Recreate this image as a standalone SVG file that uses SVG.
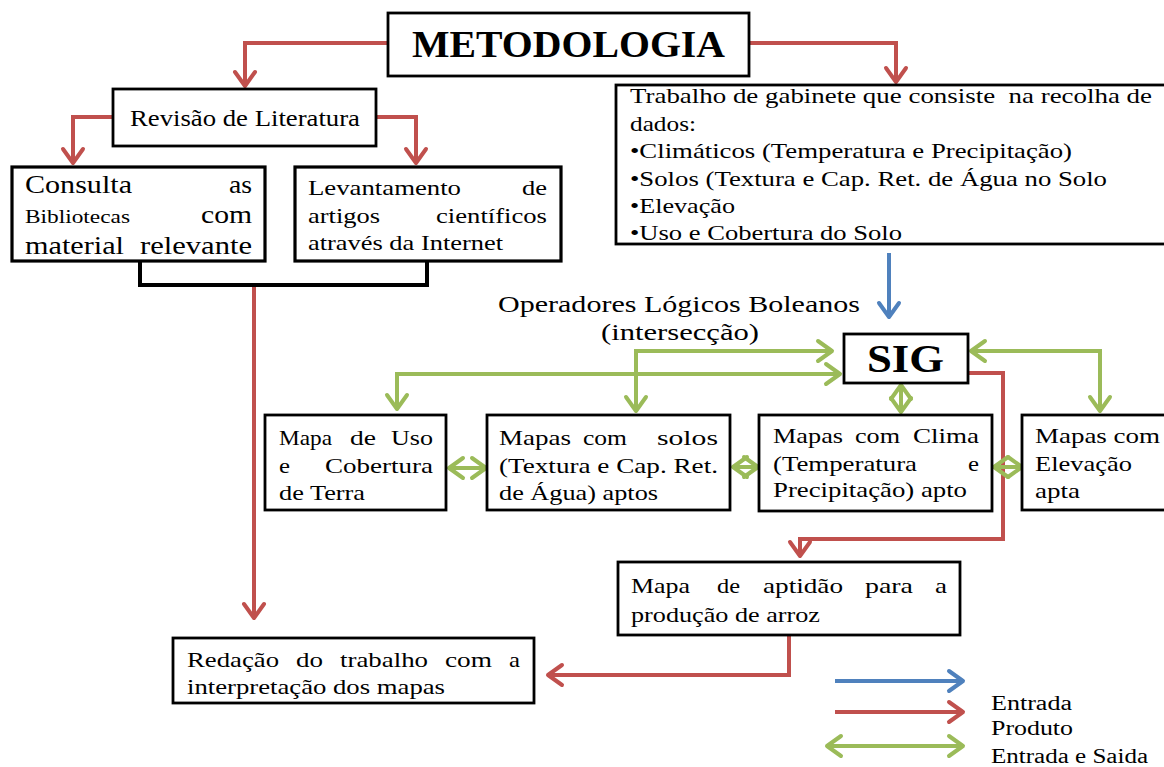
<svg xmlns="http://www.w3.org/2000/svg" width="1164" height="767" viewBox="0 0 1164 767" font-family="'Liberation Serif', Tinos, 'Times New Roman', Times, serif">
<style>
.box{fill:#fff;stroke:#000;stroke-width:2.8}
text{font-family:'Liberation Serif', Tinos, 'Times New Roman', Times, serif;fill:#000;font-size:22px}
.bold{font-weight:bold}
.r{stroke:#C0504D;stroke-width:4;fill:none}
.g{stroke:#9BBB59;stroke-width:4;fill:none}
.b{stroke:#4F81BD;stroke-width:4;fill:none}
.k{stroke:#000;stroke-width:4;fill:none}
</style>
<defs>
<marker id="ar" markerUnits="userSpaceOnUse" viewBox="-17 -13 21 26" markerWidth="21" markerHeight="26" refX="0" refY="0" orient="auto"><path d="M-14,-10 L0,0 L-14,10" fill="none" stroke="#C0504D" stroke-width="4" stroke-linecap="round" stroke-linejoin="round"/></marker>
<marker id="ag" markerUnits="userSpaceOnUse" viewBox="-17 -13 21 26" markerWidth="21" markerHeight="26" refX="0" refY="0" orient="auto-start-reverse"><path d="M-14,-10 L0,0 L-14,10" fill="none" stroke="#9BBB59" stroke-width="4" stroke-linecap="round" stroke-linejoin="round"/></marker>
<marker id="ab" markerUnits="userSpaceOnUse" viewBox="-17 -13 21 26" markerWidth="21" markerHeight="26" refX="0" refY="0" orient="auto"><path d="M-14,-10 L0,0 L-14,10" fill="none" stroke="#4F81BD" stroke-width="4" stroke-linecap="round" stroke-linejoin="round"/></marker>
</defs>
<rect width="1164" height="767" fill="#fff"/>

<g id="connectors">
<path class="r" d="M388,43 H245 V86" marker-end="url(#ar)"/>
<path class="r" d="M749,43 H896 V82" marker-end="url(#ar)"/>
<path class="r" d="M113,117 H73 V163" marker-end="url(#ar)"/>
<path class="r" d="M376,117 H416 V163" marker-end="url(#ar)"/>
<path class="k" d="M140,261 V285 H427 V261"/>
<path class="r" d="M254,287 V618" marker-end="url(#ar)"/>
<path class="r" d="M963,373 H1003 V539 H800 V556" marker-end="url(#ar)"/>
<path class="r" d="M789,635 V675 H548" marker-end="url(#ar)"/>
<path class="b" d="M889,253 V317" marker-end="url(#ab)"/>
<path class="g" d="M636,411 V351 H832" marker-start="url(#ag)" marker-end="url(#ag)"/>
<path class="g" d="M397,409 V374 H840" marker-start="url(#ag)" marker-end="url(#ag)"/>
<path class="g" d="M1100,411 V351 H971" marker-start="url(#ag)" marker-end="url(#ag)"/>
<path class="g" d="M901,385 V412" marker-start="url(#ag)" marker-end="url(#ag)"/>
<path class="g" d="M449,468 H486" marker-start="url(#ag)" marker-end="url(#ag)"/>
<path class="g" d="M733,467 H758" marker-start="url(#ag)" marker-end="url(#ag)"/>
<path class="g" d="M994,467 H1022" marker-start="url(#ag)" marker-end="url(#ag)"/>
</g>

<g id="metodologia">
<rect class="box" x="388" y="13" width="361" height="63"/>
<text class="bold" x="412" y="57" style="font-size:38px" textLength="313" lengthAdjust="spacingAndGlyphs">METODOLOGIA</text>
</g>

<g id="revisao">
<rect class="box" x="113" y="89" width="263" height="57"/>
<text x="130" y="126" style="font-size:23px" textLength="230" lengthAdjust="spacingAndGlyphs">Revisão de Literatura</text>
</g>

<g id="consulta">
<rect class="box" x="12" y="167" width="253" height="94" style="stroke-width:3.2"/>
<text x="25" y="193" style="font-size:26px" textLength="107" lengthAdjust="spacingAndGlyphs">Consulta</text>
<text x="229" y="193" style="font-size:26px" textLength="23" lengthAdjust="spacingAndGlyphs">as</text>
<text x="25" y="223" style="font-size:18px" textLength="105" lengthAdjust="spacingAndGlyphs">Bibliotecas</text>
<text x="201" y="223" style="font-size:26px" textLength="51" lengthAdjust="spacingAndGlyphs">com</text>
<text x="25" y="254" style="font-size:26px" textLength="99" lengthAdjust="spacingAndGlyphs">material</text>
<text x="140" y="254" style="font-size:26px" textLength="112" lengthAdjust="spacingAndGlyphs">relevante</text>
</g>

<g id="levantamento">
<rect class="box" x="295" y="167" width="266" height="94" style="stroke-width:3.2"/>
<text x="308" y="195" textLength="153" lengthAdjust="spacingAndGlyphs">Levantamento</text>
<text x="522" y="195" textLength="25" lengthAdjust="spacingAndGlyphs">de</text>
<text x="308" y="223" textLength="72" lengthAdjust="spacingAndGlyphs">artigos</text>
<text x="436" y="223" textLength="111" lengthAdjust="spacingAndGlyphs">científicos</text>
<text x="308" y="250" textLength="195" lengthAdjust="spacingAndGlyphs">através da Internet</text>
</g>

<g id="trabalho">
<rect class="box" x="616" y="85" width="560" height="159"/>
<text x="630" y="103" style="white-space:pre" textLength="522" lengthAdjust="spacingAndGlyphs">Trabalho de gabinete que consiste  na recolha de</text>
<text x="630" y="131" textLength="66" lengthAdjust="spacingAndGlyphs">dados:</text>
<text x="630" y="158" textLength="442" lengthAdjust="spacingAndGlyphs">•Climáticos (Temperatura e Precipitação)</text>
<text x="630" y="186" textLength="477" lengthAdjust="spacingAndGlyphs">•Solos (Textura e Cap. Ret. de Água no Solo</text>
<text x="630" y="213" textLength="105" lengthAdjust="spacingAndGlyphs">•Elevação</text>
<text x="630" y="240" textLength="272" lengthAdjust="spacingAndGlyphs">•Uso e Cobertura do Solo</text>
</g>

<g id="operadores">
<text x="498" y="312" style="font-size:24px" textLength="362" lengthAdjust="spacingAndGlyphs">Operadores Lógicos Boleanos</text>
<text x="601" y="340" style="font-size:24px" textLength="158" lengthAdjust="spacingAndGlyphs">(intersecção)</text>
</g>

<g id="sig">
<rect class="box" x="844" y="334" width="124" height="49"/>
<text class="bold" x="867" y="372" style="font-size:39px" textLength="77" lengthAdjust="spacingAndGlyphs">SIG</text>
</g>

<g id="mapa-uso">
<rect class="box" x="265" y="415" width="181" height="95"/>
<text x="279" y="445" textLength="53" lengthAdjust="spacingAndGlyphs">Mapa</text>
<text x="350" y="445" textLength="26" lengthAdjust="spacingAndGlyphs">de</text>
<text x="391" y="445" textLength="42" lengthAdjust="spacingAndGlyphs">Uso</text>
<text x="279" y="473" textLength="11" lengthAdjust="spacingAndGlyphs">e</text>
<text x="325" y="473" textLength="108" lengthAdjust="spacingAndGlyphs">Cobertura</text>
<text x="279" y="500" textLength="86" lengthAdjust="spacingAndGlyphs">de Terra</text>
</g>

<g id="mapas-solos">
<rect class="box" x="487" y="415" width="243" height="95"/>
<text x="499" y="445" textLength="72" lengthAdjust="spacingAndGlyphs">Mapas</text>
<text x="583" y="445" textLength="44" lengthAdjust="spacingAndGlyphs">com</text>
<text x="657" y="445" textLength="61" lengthAdjust="spacingAndGlyphs">solos</text>
<text x="499" y="473" textLength="219" lengthAdjust="spacingAndGlyphs">(Textura e Cap. Ret.</text>
<text x="499" y="500" textLength="159" lengthAdjust="spacingAndGlyphs">de Água) aptos</text>
</g>

<g id="mapas-clima">
<rect class="box" x="759" y="415" width="233" height="96"/>
<text x="773" y="443" textLength="70" lengthAdjust="spacingAndGlyphs">Mapas</text>
<text x="855" y="443" textLength="45" lengthAdjust="spacingAndGlyphs">com</text>
<text x="913" y="443" textLength="66" lengthAdjust="spacingAndGlyphs">Clima</text>
<text x="773" y="471" textLength="144" lengthAdjust="spacingAndGlyphs">(Temperatura</text>
<text x="968" y="471" textLength="11" lengthAdjust="spacingAndGlyphs">e</text>
<text x="773" y="497" textLength="194" lengthAdjust="spacingAndGlyphs">Precipitação) apto</text>
</g>

<g id="mapas-elevacao">
<rect class="box" x="1022" y="415" width="150" height="95"/>
<text x="1035" y="443" textLength="125" lengthAdjust="spacingAndGlyphs">Mapas com</text>
<text x="1035" y="471" textLength="97" lengthAdjust="spacingAndGlyphs">Elevação</text>
<text x="1035" y="498" textLength="45" lengthAdjust="spacingAndGlyphs">apta</text>
</g>

<g id="mapa-aptidao">
<rect class="box" x="618" y="562" width="342" height="73"/>
<text x="631" y="593" textLength="59" lengthAdjust="spacingAndGlyphs">Mapa</text>
<text x="717" y="593" textLength="23" lengthAdjust="spacingAndGlyphs">de</text>
<text x="763" y="593" textLength="80" lengthAdjust="spacingAndGlyphs">aptidão</text>
<text x="865" y="593" textLength="48" lengthAdjust="spacingAndGlyphs">para</text>
<text x="935" y="593" textLength="12" lengthAdjust="spacingAndGlyphs">a</text>
<text x="631" y="622" textLength="189" lengthAdjust="spacingAndGlyphs">produção de arroz</text>
</g>

<g id="redacao">
<rect class="box" x="173" y="638" width="361" height="65"/>
<text x="187" y="667" textLength="92" lengthAdjust="spacingAndGlyphs">Redação</text>
<text x="296" y="667" textLength="27" lengthAdjust="spacingAndGlyphs">do</text>
<text x="340" y="667" textLength="88" lengthAdjust="spacingAndGlyphs">trabalho</text>
<text x="445" y="667" textLength="47" lengthAdjust="spacingAndGlyphs">com</text>
<text x="509" y="667" textLength="11" lengthAdjust="spacingAndGlyphs">a</text>
<text x="187" y="694" textLength="258" lengthAdjust="spacingAndGlyphs">interpretação dos mapas</text>
</g>

<g id="legenda">
<path class="b" d="M835,681 H963" marker-end="url(#ab)"/>
<path class="r" d="M835,712 H963" marker-end="url(#ar)"/>
<path class="g" d="M827,746 H963" marker-start="url(#ag)" marker-end="url(#ag)"/>
<text x="991" y="710" style="font-size:20px" textLength="81" lengthAdjust="spacingAndGlyphs">Entrada</text>
<text x="991" y="735" style="font-size:20px" textLength="82" lengthAdjust="spacingAndGlyphs">Produto</text>
<text x="991" y="763" style="font-size:20px" textLength="157" lengthAdjust="spacingAndGlyphs">Entrada e Saida</text>
</g>
</svg>
